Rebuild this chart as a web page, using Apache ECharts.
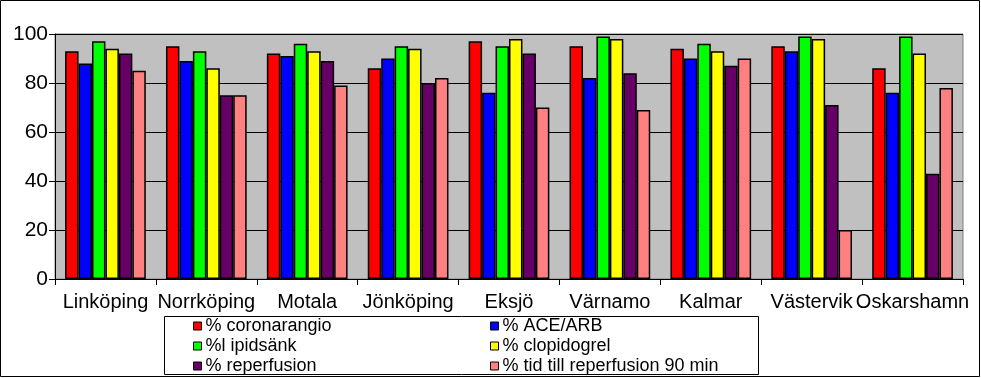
<!DOCTYPE html>
<html>
<head>
<meta charset="utf-8">
<script src="https://cdn.jsdelivr.net/npm/echarts@6/dist/echarts.min.js"></script>
<style>
html,body{margin:0;padding:0;background:#fff;}
#chart{width:981px;height:378px;}
</style>
</head>
<body>
<div id="chart"></div>
<script>
const categories = ['Linköping','Norrköping','Motala','Jönköping','Eksjö','Värnamo','Kalmar','Västervik','Oskarshamn'];
const seriesNames = ['% coronarangio','% ACE/ARB','%l ipidsänk','% clopidogrel','% reperfusion','% tid till reperfusion 90 min'];
const coronarangio = [93, 95, 92, 86, 97, 95, 94, 95, 86];
const aceArb       = [88, 89, 91, 90, 76, 82, 90, 93, 76];
const lipidsank    = [97, 93, 96, 95, 95, 99, 96, 99, 99];
const clopidogrel  = [94, 86, 93, 94, 98, 98, 93, 98, 92];
const reperfusion  = [92, 75, 89, 80, 92, 84, 87, 71, 43];
const tid90        = [85, 75, 79, 82, 70, 69, 90, 20, 78];
const yTicks = [0, 20, 40, 60, 80, 100];

const colors = ['#FF0000','#0000FF','#00FF00','#FFFF00','#660066','#FF8080'];
const values = [coronarangio, aceArb, lipidsank, clopidogrel, reperfusion, tid90];
const FONT = 'Liberation Sans, Arial, sans-serif';

const chart = echarts.init(document.getElementById('chart'));
const series = seriesNames.map((n, i) => ({
  name: n,
  type: 'bar',
  data: values[i],
  barGap: '0%',
  barCategoryGap: '20%',
  itemStyle: { color: colors[i], borderColor: '#000', borderWidth: 1.5 },
  emphasis: { disabled: true },
  animation: false
}));

const legendCommon = {
  orient: 'vertical',
  top: 317,
  itemWidth: 8,
  itemHeight: 8,
  itemGap: 2,
  icon: 'rect',
  padding: 0,
  selectedMode: false,
  itemStyle: { borderColor: '#000', borderWidth: 1 },
  textStyle: { fontFamily: FONT, fontSize: 18, lineHeight: 18, color: '#000', padding: [0,0,0,-1] }
};

chart.setOption({
  animation: false,
  grid: { left: 55, right: 18, top: 34, bottom: 99, show: true, backgroundColor: '#C0C0C0', borderColor: '#808080', borderWidth: 1 },
  legend: [
    Object.assign({}, legendCommon, { left: 193, data: [seriesNames[0], seriesNames[2], seriesNames[4]] }),
    Object.assign({}, legendCommon, { left: 490, data: [seriesNames[1], seriesNames[3], seriesNames[5]] })
  ],
  xAxis: {
    type: 'category',
    data: categories,
    axisLine: { lineStyle: { color: '#000', width: 1 } },
    axisTick: { show: true, length: 6, lineStyle: { color: '#000' } },
    axisLabel: { interval: 0, color: '#000', fontFamily: FONT, fontSize: 20, margin: 13 }
  },
  yAxis: {
    type: 'value',
    min: yTicks[0],
    max: yTicks[yTicks.length - 1],
    interval: 20,
    axisLine: { show: true, lineStyle: { color: '#000', width: 1 } },
    axisTick: { show: true, length: 6, lineStyle: { color: '#000' } },
    axisLabel: { color: '#000', fontFamily: FONT, fontSize: 21, margin: 7 },
    splitLine: { show: true, lineStyle: { color: '#000', width: 1 } }
  },
  graphic: [
    { type: 'rect', shape: { x: 0.5, y: 0.5, width: 979, height: 376 }, style: { fill: 'none', stroke: '#000', lineWidth: 1 }, silent: true, z: 100 },
    { type: 'rect', shape: { x: 164.5, y: 316.5, width: 594, height: 58 }, style: { fill: 'none', stroke: '#000', lineWidth: 1 }, silent: true, z: 100 }
  ],
  series: series
});
</script>
</body>
</html>
